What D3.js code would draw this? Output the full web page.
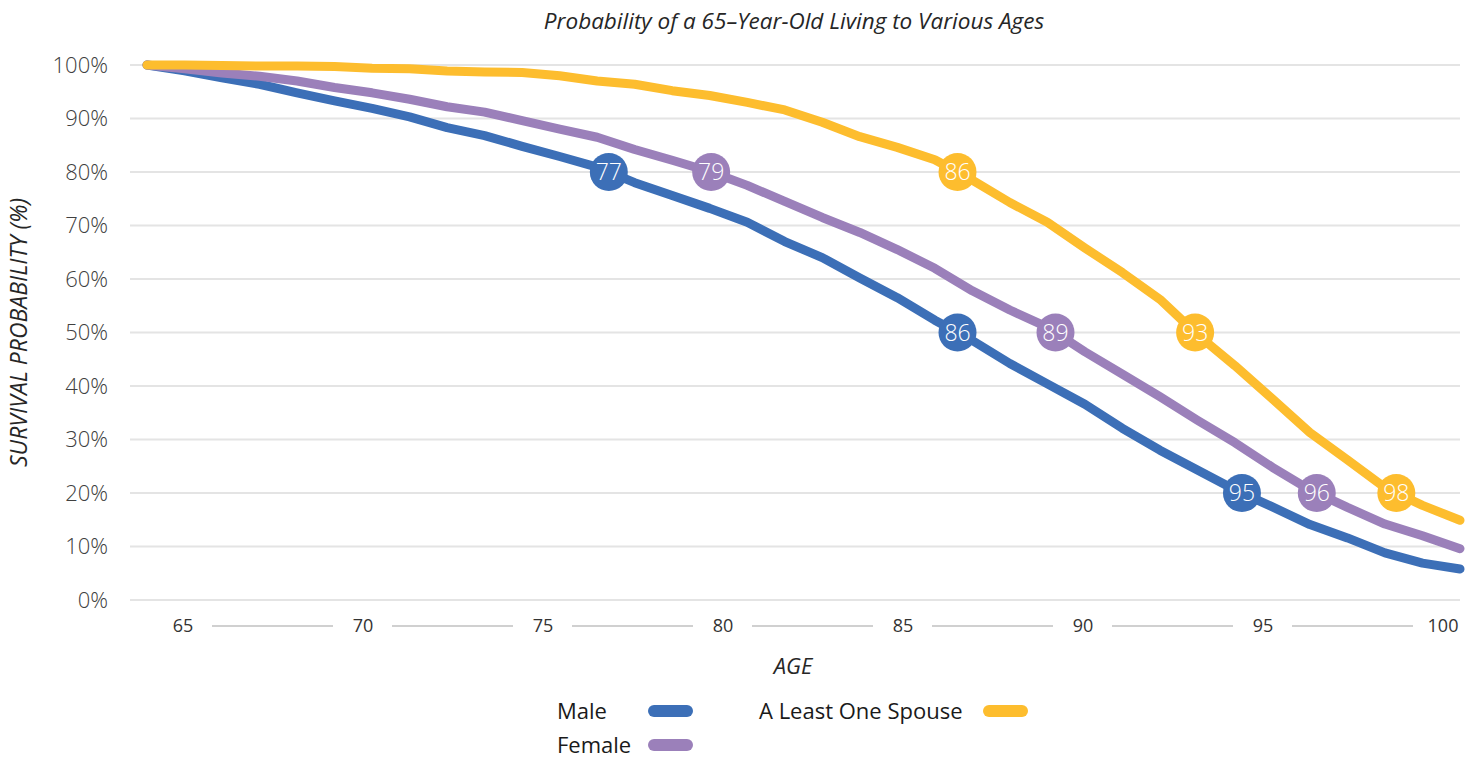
<!DOCTYPE html>
<html>
<head>
<meta charset="utf-8">
<script src="https://cdn.jsdelivr.net/npm/d3@7"></script>
<style>
    body { margin: 0; background: #fff; }
    text { font-family: "Open Sans", "DejaVu Sans", sans-serif; }
</style>
</head>
<body>
<div id="chart"></div>
<script>
var ages = [65, 66, 67, 68, 69, 70, 71, 72, 73, 74, 75, 76, 77, 78, 79, 80, 81, 82,
    83, 84, 85, 86, 87, 88, 89, 90, 91, 92, 93, 94, 95, 96, 97, 98, 99, 100];
var male = [100, 98.9, 97.6, 96.4, 94.8, 93.3, 91.9, 90.3, 88.3, 86.8, 84.8, 82.9, 80.9, 78.0,
    75.6, 73.2, 70.6, 67.0, 64.0, 60.2, 56.5, 52.3, 48.5, 44.2, 40.4, 36.6, 32.1, 28.0,
    24.3, 20.6, 17.4, 14.1, 11.6, 8.8, 6.9, 5.8];
var female = [100, 99.3, 98.5, 97.9, 97.0, 95.8, 94.8, 93.6, 92.2, 91.2, 89.6, 88.0, 86.5, 84.2,
    82.2, 80.1, 77.5, 74.5, 71.5, 68.7, 65.5, 62.0, 57.8, 54.2, 51.0, 46.4, 42.2, 38.0,
    33.6, 29.4, 24.8, 20.6, 17.3, 14.2, 12.0, 9.6];
var spouse = [100, 100, 99.9, 99.8, 99.8, 99.7, 99.4, 99.3, 98.9, 98.7, 98.6, 98.0, 97.0, 96.4,
    95.2, 94.3, 93.0, 91.6, 89.3, 86.6, 84.6, 82.3, 78.5, 74.3, 70.6, 65.8, 61.2, 56.2,
    49.6, 43.8, 37.6, 31.3, 26.2, 21.0, 17.7, 14.9];

// survival levels that get a marker, and the age printed in it
var levels = [80, 50, 20];
var maleMarks = [77, 86, 95];
var femaleMarks = [79, 89, 96];
var spouseMarks = [86, 93, 98];

var yTicks = [0, 10, 20, 30, 40, 50, 60, 70, 80, 90, 100];
var xTickLabels = [65, 70, 75, 80, 85, 90, 95, 100];
var seriesNames = ["Male", "Female", "A Least One Spouse"];
var seriesColors = ["#3c6fb7", "#9b80ba", "#fdbd2e"];

function drawChart() {
    var width = 1476, height = 758;
    var svg = d3.select("#chart").append("svg")
        .attr("width", width).attr("height", height);

    var x = d3.scaleLinear().domain([65, 100]).range([147, 1460]);
    var y = d3.scaleLinear().domain([0, 100]).range([600, 65]);
    var xTick = d3.scalePoint().domain(xTickLabels).range([183, 1443]);

    svg.append("text")
        .text("Probability of a 65\u2013Year-Old Living to Various Ages")
        .attr("x", 794).attr("y", 29)
        .attr("text-anchor", "middle")
        .attr("font-style", "italic")
        .attr("font-size", 22.5)
        .attr("fill", "#262626");

    // gridlines + y labels
    var yAxis = svg.append("g");
    yAxis.selectAll("line").data(yTicks).enter().append("line")
        .attr("x1", 130).attr("x2", 1460)
        .attr("y1", function (d) { return y(d); })
        .attr("y2", function (d) { return y(d); })
        .attr("stroke", "#e4e4e4")
        .attr("stroke-width", 2);
    yAxis.selectAll("text").data(yTicks).enter().append("text")
        .text(function (d) { return d + "%"; })
        .attr("x", 108)
        .attr("y", function (d) { return y(d); })
        .attr("dy", "0.35em")
        .attr("text-anchor", "end")
        .attr("font-size", 22)
        .attr("font-weight", 300)
        .attr("fill", "#404040");

    svg.append("text")
        .text("SURVIVAL PROBABILITY (%)")
        .attr("transform", "translate(27," + y(50) + ") rotate(-90)")
        .attr("text-anchor", "middle")
        .attr("font-style", "italic")
        .attr("font-size", 23)
        .attr("fill", "#262626");

    // x axis: labels with grey segments between them
    var xAxis = svg.append("g");
    var pairs = d3.pairs(xTickLabels);
    xAxis.selectAll("line").data(pairs).enter().append("line")
        .attr("x1", function (d) { return xTick(d[0]) + 29; })
        .attr("x2", function (d) { return xTick(d[1]) - 30; })
        .attr("y1", 626).attr("y2", 626)
        .attr("stroke", "#d0d0d0")
        .attr("stroke-width", 2);
    xAxis.selectAll("text").data(xTickLabels).enter().append("text")
        .text(function (d) { return d; })
        .attr("x", function (d) { return xTick(d); })
        .attr("y", 626)
        .attr("dy", "0.35em")
        .attr("text-anchor", "middle")
        .attr("font-size", 18)
        .attr("fill", "#333");

    svg.append("text")
        .text("AGE")
        .attr("x", 793).attr("y", 666)
        .attr("dy", "0.35em")
        .attr("text-anchor", "middle")
        .attr("font-style", "italic")
        .attr("font-size", 22)
        .attr("fill", "#262626");

    var series = [male, female, spouse];
    var marks = [maleMarks, femaleMarks, spouseMarks];

    var line = d3.line()
        .x(function (d, i) { return x(ages[i]); })
        .y(function (d) { return y(d); });

    svg.append("g").selectAll("path").data(series).enter().append("path")
        .attr("d", line)
        .attr("fill", "none")
        .attr("stroke", function (d, i) { return seriesColors[i]; })
        .attr("stroke-width", 9)
        .attr("stroke-linejoin", "round")
        .attr("stroke-linecap", "round");

    // age where a series drops to a level
    function crossing(values, level) {
        for (var i = 0; i < values.length - 1; i++) {
            if (values[i] >= level && values[i + 1] < level) {
                var t = (values[i] - level) / (values[i] - values[i + 1]);
                return ages[i] + t;
            }
        }
        return ages[ages.length - 1];
    }

    var points = [];
    series.forEach(function (values, s) {
        levels.forEach(function (level, k) {
            points.push({ s: s, level: level, age: crossing(values, level), label: marks[s][k] });
        });
    });

    var dots = svg.append("g").selectAll("g").data(points).enter().append("g")
        .attr("transform", function (d) { return "translate(" + x(d.age) + "," + y(d.level) + ")"; });
    dots.append("circle")
        .attr("r", 19)
        .attr("fill", function (d) { return seriesColors[d.s]; });
    dots.append("text")
        .text(function (d) { return d.label; })
        .attr("dy", "0.36em")
        .attr("text-anchor", "middle")
        .attr("font-size", 23)
        .attr("font-weight", 300)
        .attr("fill", "#fff");

    // legend
    var legendPos = [[557, 711], [557, 745], [759, 711]];
    var swatchX = [648, 648, 983];
    var legend = svg.append("g").selectAll("g").data(seriesNames).enter().append("g");
    legend.append("text")
        .text(function (d) { return d; })
        .attr("x", function (d, i) { return legendPos[i][0]; })
        .attr("y", function (d, i) { return legendPos[i][1]; })
        .attr("dy", "0.35em")
        .attr("font-size", 22)
        .attr("fill", "#1a1a1a");
    legend.append("line")
        .attr("x1", function (d, i) { return swatchX[i] + 6; })
        .attr("x2", function (d, i) { return swatchX[i] + 39; })
        .attr("y1", function (d, i) { return legendPos[i][1]; })
        .attr("y2", function (d, i) { return legendPos[i][1]; })
        .attr("stroke", function (d, i) { return seriesColors[i]; })
        .attr("stroke-width", 12)
        .attr("stroke-linecap", "round");
}

drawChart();
</script>
</body>
</html>
